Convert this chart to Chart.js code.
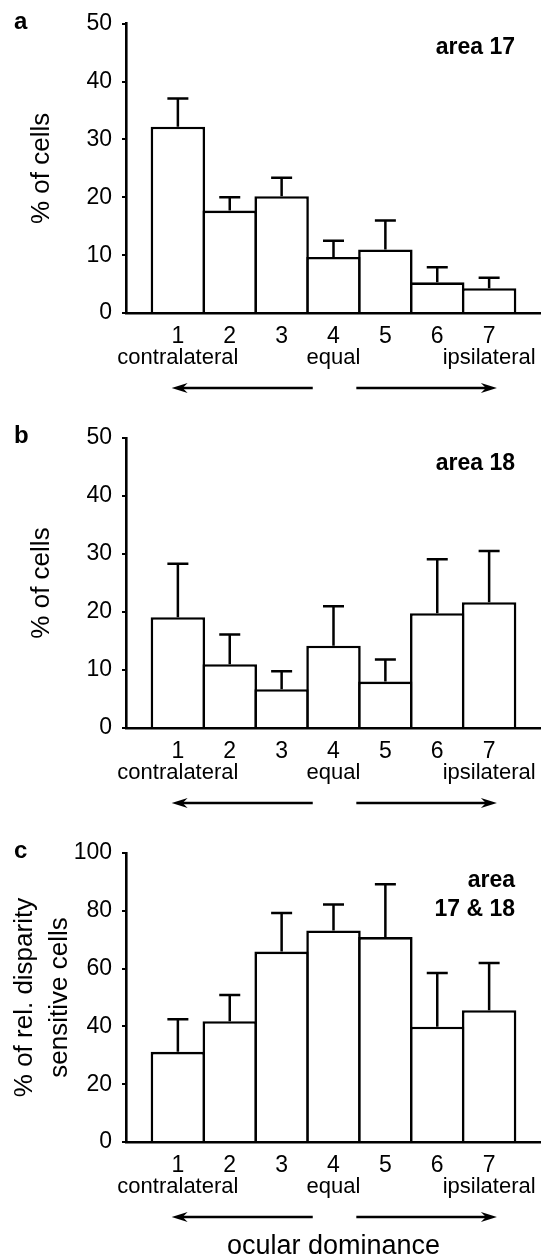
<!DOCTYPE html>
<html>
<head>
<meta charset="utf-8">
<title>Ocular dominance</title>
<script src="https://cdn.jsdelivr.net/npm/chart.js@4.4.1/dist/chart.umd.min.js"></script>
<style>
    html, body { margin: 0; padding: 0; background: #fff; }
    #wrap { position: relative; width: 541px; height: 1258px; overflow: hidden; }
    #wrap canvas { position: absolute; left: 0; }
</style>
</head>
<body>
<div id="wrap">
    <canvas id="chartA" width="541" height="410" style="top:0"></canvas>
    <canvas id="chartB" width="541" height="410" style="top:410px"></canvas>
    <canvas id="chartC" width="541" height="438" style="top:820px"></canvas>
</div>
<script>
// ocular dominance classes
const categories = [1, 2, 3, 4, 5, 6, 7];
const dominanceLabels = ['contralateral', 'equal', 'ipsilateral'];
const dominanceAt = [1, 4, 7];

// a: area 17, % of cells (mean, error)
const area17 = [32.2, 17.7, 20.2, 9.7, 11.0, 5.3, 4.3];
const area17Err = [4.9, 2.3, 3.2, 2.8, 5.0, 2.6, 1.8];

// b: area 18, % of cells
const area18 = [19.1, 11.0, 6.7, 14.2, 8.0, 19.8, 21.7];
const area18Err = [9.2, 5.1, 3.1, 6.8, 3.8, 9.3, 8.8];

// c: areas 17 & 18, % of relative disparity sensitive cells
const disparity = [31.2, 41.8, 65.9, 73.2, 70.9, 39.9, 45.6];
const disparityErr = [11.3, 9.1, 13.3, 9.0, 18.3, 18.6, 16.3];

const FONT = '"Liberation Sans", Arial, Helvetica, sans-serif';

function drawArrow(ctx, from, to, y) {
    const dir = Math.sign(to - from);
    ctx.lineWidth = 2.5;
    ctx.beginPath();
    ctx.moveTo(from, y);
    ctx.lineTo(to - dir * 10, y);
    ctx.stroke();
    ctx.beginPath();
    ctx.moveTo(to, y);
    ctx.lineTo(to - dir * 16, y - 5);
    ctx.lineTo(to - dir * 11, y);
    ctx.lineTo(to - dir * 16, y + 5);
    ctx.closePath();
    ctx.fill();
}

// error bars on top of each bar
const errorBars = {
    id: 'errorBars',
    afterDatasetsDraw(chart, args, opts) {
        const ctx = chart.ctx;
        const yScale = chart.scales.y;
        const points = chart.data.datasets[0].data;
        ctx.save();
        ctx.strokeStyle = '#000';
        ctx.lineWidth = 2.5;
        chart.getDatasetMeta(0).data.forEach((bar, i) => {
            const top = yScale.getPixelForValue(points[i].y + opts.errors[i]);
            ctx.beginPath();
            ctx.moveTo(bar.x, bar.y);
            ctx.lineTo(bar.x, top);
            ctx.moveTo(bar.x - 10.5, top);
            ctx.lineTo(bar.x + 10.5, top);
            ctx.stroke();
        });
        ctx.restore();
    }
};

// panel letter, area label, dominance words and arrows
const panelText = {
    id: 'panelText',
    afterDraw(chart, args, opts) {
        const {ctx, chartArea: area} = chart;
        const xScale = chart.scales.x;
        ctx.save();
        ctx.fillStyle = '#000';
        ctx.strokeStyle = '#000';
        ctx.textBaseline = 'alphabetic';

        ctx.font = 'bold 24px ' + FONT;
        ctx.textAlign = 'left';
        ctx.fillText(opts.letter, 14, area.top + 5);

        ctx.font = 'bold 23px ' + FONT;
        ctx.textAlign = 'right';
        opts.area.forEach((t, i) => {
            ctx.fillText(t, xScale.getPixelForValue(7.5), area.top + opts.areaY + i * 29);
        });

        ctx.font = '22px ' + FONT;
        ctx.textAlign = 'center';
        dominanceLabels.forEach((t, i) => {
            ctx.fillText(t, xScale.getPixelForValue(dominanceAt[i]), area.bottom + 51);
        });

        const ay = area.bottom + 75;
        drawArrow(ctx, xScale.getPixelForValue(3.6), xScale.getPixelForValue(0.88), ay);
        drawArrow(ctx, xScale.getPixelForValue(4.44), xScale.getPixelForValue(7.15), ay);
        ctx.restore();
    }
};

function makeChart(id, values, errors, cfg) {
    const ctx = document.getElementById(id).getContext('2d');
    return new Chart(ctx, {
        type: 'bar',
        data: {
            datasets: [{
                data: categories.map((c, i) => ({x: c, y: values[i]})),
                backgroundColor: '#fff',
                borderColor: '#000',
                borderWidth: 2.6,
                barPercentage: 1.05,
                categoryPercentage: 1
            }]
        },
        options: {
            responsive: false,
            animation: false,
            devicePixelRatio: 1,
            layout: { padding: { top: cfg.padTop, right: 0, bottom: 0, left: 0 } },
            plugins: {
                legend: { display: false },
                tooltip: { enabled: false },
                errorBars: { errors: errors },
                panelText: { letter: cfg.letter, area: cfg.area, areaY: cfg.areaY }
            },
            scales: {
                x: {
                    type: 'linear',
                    min: 0,
                    max: 8,
                    offset: false,
                    afterFit(s) { s.height = cfg.xAxisH; },
                    afterBuildTicks(s) { s.ticks = categories.map(v => ({value: v})); },
                    grid: { display: false, drawTicks: false, offset: false },
                    border: { display: true, color: '#000', width: 2.6 },
                    ticks: {
                        color: '#000',
                        font: { family: FONT, size: 23 },
                        padding: 10,
                        autoSkip: false,
                        maxRotation: 0
                    },
                    title: cfg.xTitle ? {
                        display: true,
                        text: cfg.xTitle,
                        color: '#000',
                        font: { family: FONT, size: 27, lineHeight: 0.85 },
                        padding: { top: 0, bottom: 0 }
                    } : { display: false }
                },
                y: {
                    min: 0,
                    max: cfg.yMax,
                    afterFit(s) { s.width = 126; },
                    ticks: {
                        stepSize: cfg.yMax / 5,
                        color: '#000',
                        font: { family: FONT, size: 23 },
                        padding: 10
                    },
                    grid: {
                        drawOnChartArea: false,
                        drawTicks: true,
                        tickLength: 4,
                        color: '#000',
                        lineWidth: 2
                    },
                    border: { color: '#000', width: 2.6 },
                    title: {
                        display: true,
                        text: cfg.yTitle,
                        color: '#000',
                        font: { family: FONT, size: 26, lineHeight: cfg.yTitleLH },
                        padding: { top: cfg.yTitlePad, bottom: 0 }
                    }
                }
            }
        },
        plugins: [errorBars, panelText]
    });
}

makeChart('chartA', area17, area17Err, {
    letter: 'a', area: ['area 17'], areaY: 30, padTop: 23, xAxisH: 97,
    yMax: 50, yTitle: '% of cells', yTitleLH: 1.2, yTitlePad: 26
});
makeChart('chartB', area18, area18Err, {
    letter: 'b', area: ['area 18'], areaY: 32, padTop: 28, xAxisH: 92,
    yMax: 50, yTitle: '% of cells', yTitleLH: 1.2, yTitlePad: 26
});
makeChart('chartC', disparity, disparityErr, {
    letter: 'c', area: ['area', '17 & 18'], areaY: 34, padTop: 33, xAxisH: 116,
    yMax: 100, yTitle: ['% of rel. disparity', 'sensitive cells'], yTitleLH: 1.35, yTitlePad: 7.5,
    xTitle: 'ocular dominance'
});
</script>
</body>
</html>
